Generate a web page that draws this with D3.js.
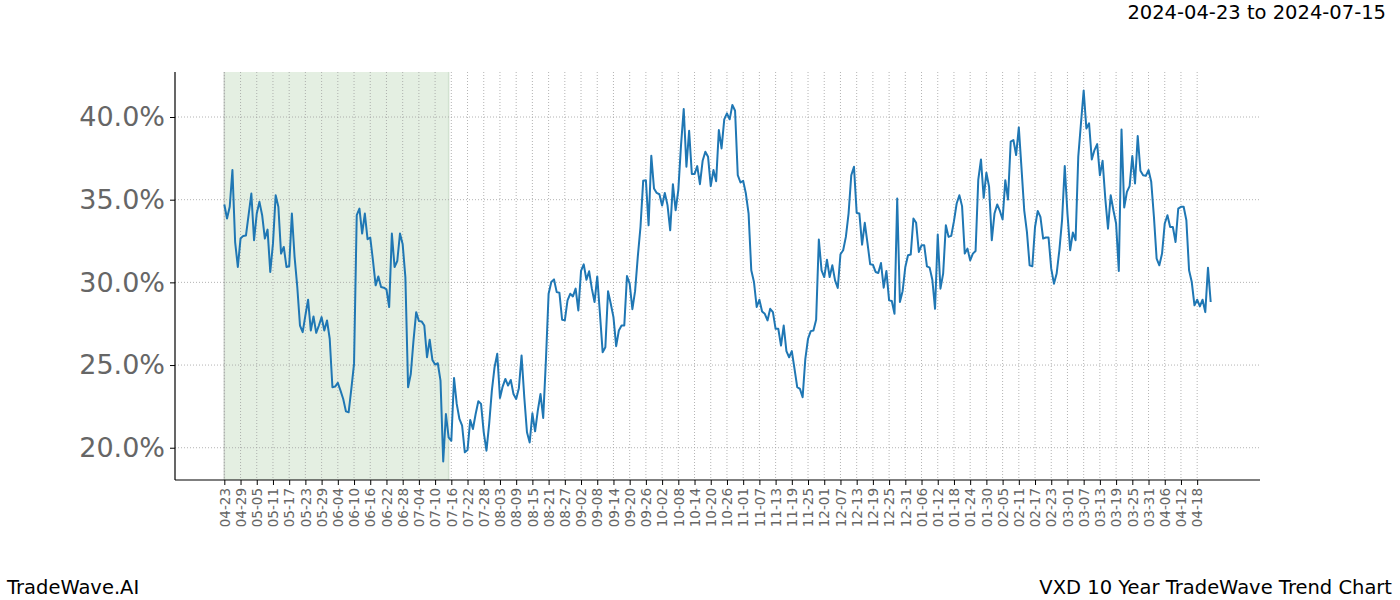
<!DOCTYPE html>
<html>
<head>
<meta charset="utf-8">
<script src="https://cdn.jsdelivr.net/npm/d3@7"></script>
<style>
  body { margin: 0; background: #fff; }
  svg text { font-family: "DejaVu Sans", sans-serif; }
</style>
</head>
<body>
<svg id="chart" width="1400" height="600"></svg>
<script>
// daily series, first value is 2024-04-23
const startDay = "2024-04-23";
const shadeRange = ["2024-04-23", "2024-07-15"];

const trendValues = [
  34.71, 33.86, 34.57, 36.79, 32.44, 30.93, 32.65, 32.81, 32.83, 34.10,
  35.37, 32.55, 34.16, 34.87, 34.06, 32.65, 33.19, 30.63, 32.34, 35.27,
  34.57, 31.74, 32.14, 30.93, 30.97, 34.16, 31.54, 29.72, 27.39, 26.99,
  28.00, 28.95, 27.09, 27.94, 26.95, 27.39, 27.90, 27.09, 27.70, 26.59,
  23.66, 23.70, 23.92, 23.45, 22.95, 22.20, 22.14, 23.56, 25.07, 34.06,
  34.46, 32.95, 34.16, 32.61, 32.71, 31.33, 29.82, 30.36, 29.72, 29.68,
  29.58, 28.51, 32.95, 30.93, 31.29, 32.95, 32.30, 30.32, 23.66, 24.46,
  26.48, 28.20, 27.66, 27.64, 27.39, 25.47, 26.53, 25.31, 25.03, 25.11,
  24.06, 19.17, 22.04, 20.63, 20.42, 24.22, 22.65, 21.74, 21.33, 19.72,
  19.86, 21.68, 21.13, 22.04, 22.81, 22.65, 20.93, 19.82, 21.43, 23.45,
  24.87, 25.68, 23.01, 23.70, 24.16, 23.76, 24.10, 23.25, 22.95, 23.60,
  25.58, 23.05, 20.93, 20.32, 22.08, 20.99, 22.24, 23.25, 21.80, 25.27,
  29.31, 30.02, 30.18, 29.41, 29.37, 27.74, 27.70, 28.91, 29.31, 29.15,
  29.62, 28.30, 30.69, 31.09, 30.16, 30.67, 29.62, 28.81, 30.36, 28.10,
  25.78, 26.08, 29.47, 28.71, 27.90, 26.14, 27.09, 27.39, 27.39, 30.38,
  29.92, 28.38, 29.47, 31.54, 33.35, 36.14, 36.18, 33.45, 37.66, 35.68,
  35.41, 35.33, 34.65, 35.41, 34.67, 33.15, 35.94, 34.36, 35.58, 38.30,
  40.48, 36.99, 39.17, 36.55, 36.55, 37.03, 35.94, 37.35, 37.90, 37.60,
  35.82, 36.79, 36.12, 39.21, 38.10, 39.86, 40.22, 39.86, 40.73, 40.38,
  36.48, 36.04, 36.14, 35.37, 34.16, 30.73, 30.02, 28.51, 28.95, 28.24,
  28.10, 27.70, 28.40, 28.20, 27.19, 27.19, 26.18, 27.39, 25.84, 25.47,
  25.84, 24.77, 23.66, 23.56, 23.05, 25.38, 26.59, 27.05, 27.09, 27.74,
  32.59, 30.73, 30.32, 31.37, 30.32, 31.03, 30.12, 29.66, 31.70, 31.94,
  32.75, 34.16, 36.48, 36.99, 34.20, 34.16, 32.28, 33.60, 32.38, 31.09,
  31.07, 30.63, 30.57, 31.17, 29.68, 30.69, 28.91, 28.87, 28.10, 35.07,
  28.81, 29.47, 30.93, 31.64, 31.68, 33.86, 33.60, 31.84, 32.24, 32.24,
  30.97, 30.89, 30.16, 28.40, 32.89, 29.62, 30.53, 33.45, 32.75, 32.81,
  33.70, 34.77, 35.27, 34.61, 31.74, 32.04, 31.33, 31.74, 31.90, 36.22,
  37.43, 35.11, 36.63, 35.78, 32.55, 34.16, 34.71, 34.32, 33.80, 36.18,
  35.01, 38.51, 38.61, 37.70, 39.37, 36.89, 34.36, 33.05, 31.03, 30.97,
  33.35, 34.32, 33.96, 32.65, 32.71, 32.71, 30.83, 29.92, 30.53, 31.94,
  33.76, 37.03, 34.16, 31.94, 33.01, 32.55, 37.60, 39.62, 41.60, 39.31,
  39.62, 37.43, 38.00, 38.36, 36.48, 37.35, 35.07, 33.25, 35.27, 34.36,
  33.56, 30.69, 39.25, 34.53, 35.47, 35.82, 37.64, 35.98, 38.85, 36.75,
  36.48, 36.44, 36.79, 36.08, 33.96, 31.43, 31.03, 31.74, 33.56, 34.06,
  33.35, 33.35, 32.44, 34.46, 34.57, 34.57, 33.76, 30.73, 30.02, 28.61,
  28.95, 28.55, 28.95, 28.20, 30.89, 28.81
];

// x ticks every 6 days starting at startDay
const tickLabels = [
  "04-23", "04-29", "05-05", "05-11", "05-17", "05-23", "05-29", "06-04", "06-10", "06-16",
  "06-22", "06-28", "07-04", "07-10", "07-16", "07-22", "07-28", "08-03", "08-09", "08-15",
  "08-21", "08-27", "09-02", "09-08", "09-14", "09-20", "09-26", "10-02", "10-08", "10-14",
  "10-20", "10-26", "11-01", "11-07", "11-13", "11-19", "11-25", "12-01", "12-07", "12-13",
  "12-19", "12-25", "12-31", "01-06", "01-12", "01-18", "01-24", "01-30", "02-05", "02-11",
  "02-17", "02-23", "03-01", "03-07", "03-13", "03-19", "03-25", "03-31", "04-06", "04-12",
  "04-18"
];
const yTicks = [20, 25, 30, 35, 40];

const titleText = "2024-04-23 to 2024-07-15";
const brandText = "TradeWave.AI";
const chartName = "VXD 10 Year TradeWave Trend Chart";

function drawChart() {
  const svg = d3.select("#chart");
  const left = 175, right = 1260, top = 72, bottom = 480;
  const parse = d3.utcParse("%Y-%m-%d");
  const start = parse(startDay);

  const data = trendValues.map((v, i) => ({ date: d3.utcDay.offset(start, i), value: v }));
  const ticks = tickLabels.map((t, i) => ({ date: d3.utcDay.offset(start, i * 6), label: t }));

  // matplotlib style 5% margins
  const first = data[0].date, last = data[data.length - 1].date;
  const padX = (last - first) * 0.05;
  const x = d3.scaleUtc()
    .domain([new Date(+first - padX), new Date(+last + padX)])
    .range([left, right]);

  const [vMin, vMax] = d3.extent(trendValues);
  const padY = (vMax - vMin) * 0.05;
  const y = d3.scaleLinear().domain([vMin - padY, vMax + padY]).range([bottom, top]);

  // highlighted window
  const s0 = x(parse(shadeRange[0])), s1 = x(parse(shadeRange[1]));
  svg.append("rect")
    .attr("x", s0).attr("y", top)
    .attr("width", s1 - s0).attr("height", bottom - top)
    .attr("fill", "#e4efe2");
  svg.append("line").attr("x1", s0).attr("x2", s0).attr("y1", top).attr("y2", bottom)
    .attr("stroke", "#c9cfc8").attr("stroke-width", 1.5);
  svg.append("line").attr("x1", s1).attr("x2", s1).attr("y1", top).attr("y2", bottom)
    .attr("stroke", "#d2e2d0").attr("stroke-width", 1.5);

  // grid
  const grid = svg.append("g").attr("stroke", "#a0a0a0").attr("stroke-width", 0.8).attr("stroke-dasharray", "1,2");
  grid.selectAll(".vg").data(ticks).enter().append("line")
    .attr("x1", d => x(d.date)).attr("x2", d => x(d.date))
    .attr("y1", top).attr("y2", bottom);
  grid.selectAll(".hg").data(yTicks).enter().append("line")
    .attr("x1", left).attr("x2", right)
    .attr("y1", d => y(d)).attr("y2", d => y(d));

  // series
  const line = d3.line().x(d => x(d.date)).y(d => y(d.value));
  svg.append("path")
    .datum(data)
    .attr("fill", "none")
    .attr("stroke", "#1f77b4")
    .attr("stroke-width", 2)
    .attr("stroke-linejoin", "round")
    .attr("d", line);

  // axes
  const xAxis = d3.axisBottom(x)
    .tickValues(ticks.map(d => d.date))
    .tickFormat((d, i) => ticks[i].label)
    .tickSize(5)
    .tickSizeOuter(0);
  const gx = svg.append("g").attr("transform", `translate(0,${bottom})`).call(xAxis);
  gx.select(".domain").attr("stroke", "#000").attr("stroke-width", 1.2).attr("d", `M${left},0H${right}`);
  gx.selectAll(".tick line").attr("stroke", "#000");
  gx.selectAll(".tick text")
    .attr("fill", "#666")
    .style("font-size", "13.5px")
    .attr("transform", "rotate(-90)")
    .attr("text-anchor", "end")
    .attr("x", -8).attr("y", 0).attr("dy", "0.35em");

  const yAxis = d3.axisLeft(y)
    .tickValues(yTicks)
    .tickFormat(d => d.toFixed(1) + "%")
    .tickSize(5)
    .tickSizeOuter(0);
  const gy = svg.append("g").attr("transform", `translate(${left},0)`).call(yAxis);
  gy.select(".domain").attr("stroke", "#000").attr("stroke-width", 1.2).attr("d", `M0,${top}V${bottom}`);
  gy.selectAll(".tick line").attr("stroke", "#000");
  gy.selectAll(".tick text")
    .attr("fill", "#666")
    .style("font-size", "27px")
    .attr("x", -10);

  // texts
  svg.append("text").attr("x", 1386).attr("y", 19).attr("text-anchor", "end")
    .style("font-size", "19.5px").attr("fill", "#000").text(titleText);
  svg.append("text").attr("x", 7).attr("y", 594)
    .style("font-size", "19.5px").attr("fill", "#000").text(brandText);
  svg.append("text").attr("x", 1392).attr("y", 594).attr("text-anchor", "end")
    .style("font-size", "19.5px").attr("fill", "#000").text(chartName);
}

drawChart();
</script>
</body>
</html>
